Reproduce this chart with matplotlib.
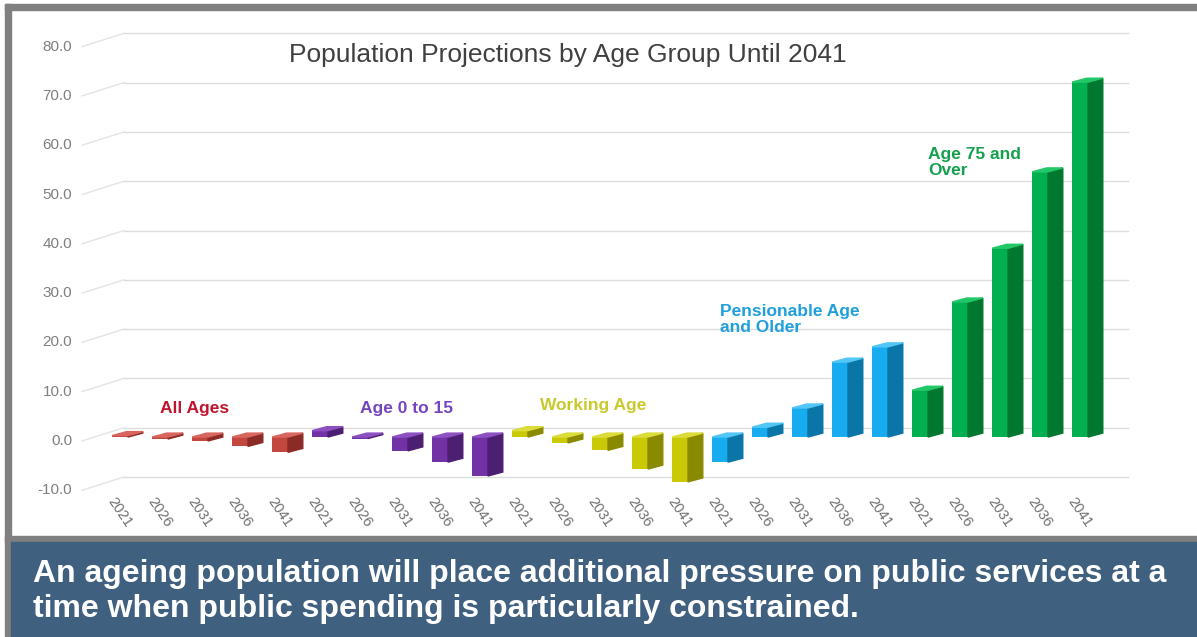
import matplotlib.pyplot as plt
from matplotlib.patches import Polygon, Rectangle

plt.rcParams['font.family'] = ['Liberation Sans', 'DejaVu Sans']

# projected % change by age group, 5-year steps
years = ['2021', '2026', '2031', '2036', '2041']
all_ages = [0.3, -0.4, -0.8, -1.9, -3.1]
age_0_15 = [1.3, -0.3, -2.8, -5.1, -7.9]
working_age = [1.3, -1.2, -2.7, -6.5, -9.1]
pensionable = [-5.1, 2.0, 5.9, 15.2, 18.3]
age_75_over = [9.5, 27.4, 38.3, 53.8, 72.0]

group_names = ['All Ages', 'Age 0 to 15', 'Working Age',
               'Pensionable Age\nand Older', 'Age 75 and\nOver']
yticks = [-10, 0, 10, 20, 30, 40, 50, 60, 70, 80]

series = [all_ages, age_0_15, working_age, pensionable, age_75_over]
# front, side, top face colours
faces = [('#c4473f', '#8c2b26', '#d8665e'),
         ('#7232a6', '#4d1f72', '#8d50c2'),
         ('#c9c905', '#8a8a00', '#dcdc3a'),
         ('#16acef', '#0a76a8', '#52c6f6'),
         ('#00b050', '#00782f', '#22c868')]
label_colors = ['#c0152f', '#7445c2', '#c9c92e', '#1f9fdc', '#15a04f']
label_pos = [(1.0, 6.5), (6.0, 6.6), (10.5, 7.2), (15.0, 24.6), (20.2, 56.5)]

W, DX, DY, BASE = 0.4, 0.37, 0.8, 0.8   # bar width and fake depth
WALL_DX, WALL_DY = 1.05, 2.7            # back wall offset

fig = plt.figure(figsize=(11.97, 6.37), dpi=100)
H = 637.0
ax = fig.add_axes([40 / 1197, (H - 495.2) / H, 1140 / 1197, 473.2 / H])
ax.set_xlim(-2.0, 26.5)
ax.set_ylim(-11, 85)
for s in ax.spines.values():
    s.set_visible(False)
ax.tick_params(length=0)
ax.set_yticks([])

# back wall gridlines with the slanted floor edge
for t in yticks:
    ax.plot([-0.95, -0.95 + WALL_DX], [t, t + WALL_DY], color='#e4e4e4', lw=1, zorder=0)
    ax.plot([-0.95 + WALL_DX, 25.2], [t + WALL_DY, t + WALL_DY], color='#dcdcdc', lw=1, zorder=0)
    ax.text(-1.2, t, f'{t:.1f}', ha='right', va='center', fontsize=11, color='#7f7f7f')

i = 0
for vals, (fc, sc, tc) in zip(series, faces):
    for v in vals:
        lo, hi = sorted((BASE, BASE + v))
        ax.bar(i, hi - lo, bottom=lo, width=W, color=fc, zorder=3)
        ax.add_patch(Polygon([(i + W / 2, lo), (i + W / 2 + DX, lo + DY),
                              (i + W / 2 + DX, hi + DY), (i + W / 2, hi)],
                             closed=True, color=sc, zorder=3))
        ax.add_patch(Polygon([(i - W / 2, hi), (i + W / 2, hi),
                              (i + W / 2 + DX, hi + DY), (i - W / 2 + DX, hi + DY)],
                             closed=True, color=tc, zorder=3))
        i += 1

ax.set_xticks(range(len(years) * len(series)))
ax.set_xticklabels(years * len(series), fontsize=10.5, color='#6f6f6f')
plt.setp(ax.get_xticklabels(), rotation=-56, ha='center')
ax.tick_params(axis='x', pad=0)

for name, c, (x, y) in zip(group_names, label_colors, label_pos):
    ax.text(x, y, name, color=c, fontsize=12.5, fontweight='bold', ha='left',
            va='center', linespacing=1.1)

ax.text(11.2, 78.3, 'Population Projections by Age Group Until 2041',
        ha='center', va='center', fontsize=19, color='#404040')

# frame and bottom banner
def px_rect(x0, y0, x1, y1, color):
    fig.patches.append(Rectangle((x0 / 1197, 1 - y1 / H), (x1 - x0) / 1197,
                                 (y1 - y0) / H, transform=fig.transFigure,
                                 color=color, zorder=-1))

px_rect(5, 4, 1197, 10, '#808080')
px_rect(5, 4, 11, 637, '#808080')
px_rect(5, 536, 1197, 542, '#808080')
px_rect(11, 542, 1197, 637, '#3f607e')

fig.text(33 / 1197, 1 - 574 / H,
         'An ageing population will place additional pressure on public services at a',
         color='white', fontsize=23, fontweight='bold', va='center')
fig.text(33 / 1197, 1 - 609 / H,
         'time when public spending is particularly constrained.',
         color='white', fontsize=23, fontweight='bold', va='center')

fig.savefig('out.png', dpi=100, facecolor='white')
